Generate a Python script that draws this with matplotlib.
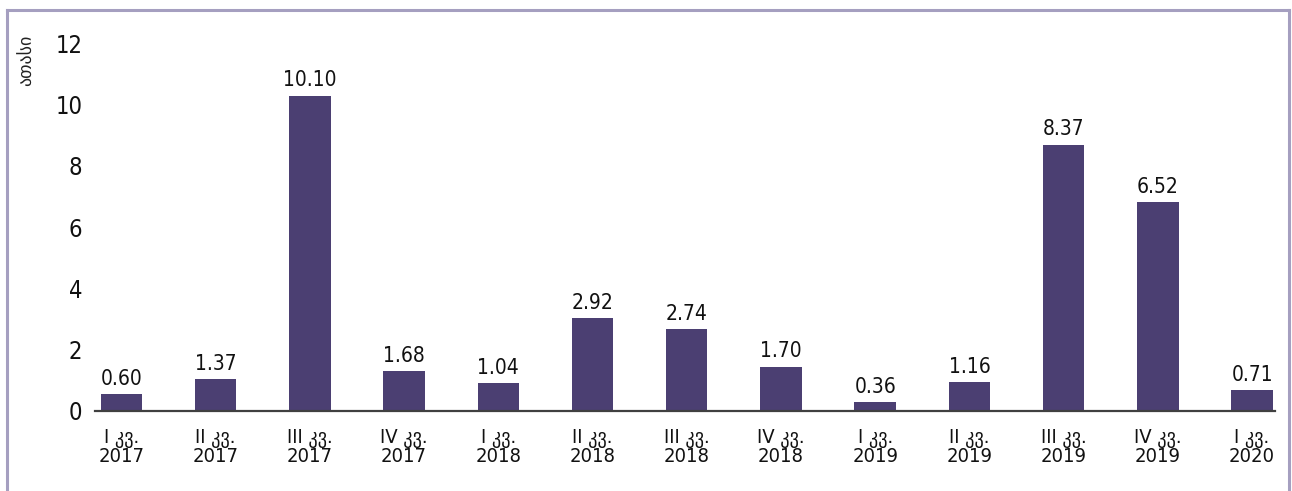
import numpy as np
import matplotlib
matplotlib.use("Agg")
import matplotlib.pyplot as plt
from matplotlib.lines import Line2D

# data
quarters = ["I", "II", "III", "IV", "I", "II", "III", "IV", "I", "II", "III", "IV", "I"]
years = ["2017", "2017", "2017", "2017", "2018", "2018", "2018", "2018",
         "2019", "2019", "2019", "2019", "2020"]
bar_heights = [0.54, 1.03, 10.29, 1.30, 0.90, 3.02, 2.66, 1.45, 0.28, 0.93, 8.69, 6.81, 0.67]
value_labels = ["0.60", "1.37", "10.10", "1.68", "1.04", "2.92", "2.74", "1.70",
                "0.36", "1.16", "8.37", "6.52", "0.71"]
y_ticks = [0, 2, 4, 6, 8, 10, 12]

BAR_COLOR = "#4b3f72"
FRAME_COLOR = "#a59fc0"

plt.rcParams["font.family"] = ["DejaVu Sans"]
plt.rcParams["font.stretch"] = "condensed"

fig = plt.figure(figsize=(12.92, 4.91), dpi=100)
ax = fig.add_axes([0.0735, 0.163, 0.9135, 0.749])

x = np.arange(len(bar_heights))
bars = ax.bar(x, bar_heights, width=0.44, color=BAR_COLOR, zorder=2)

for rect, lab in zip(bars, value_labels):
    ax.annotate(lab, (rect.get_x() + rect.get_width() / 2, rect.get_height()),
                xytext=(0, 4), textcoords="offset points",
                ha="center", va="bottom", fontsize=15, color="#111111")

ax.set_xlim(-0.28, len(bar_heights) - 1 + 0.245)
ax.set_ylim(0, 12)
ax.set_yticks(y_ticks)
ax.set_yticklabels([str(t) for t in y_ticks], fontsize=17)
ax.set_xticks(x)
ax.set_xticklabels([f"{q} კვ.\n{y}" for q, y in zip(quarters, years)],
                   fontsize=14.5, linespacing=0.95)
ax.tick_params(axis="both", length=0, colors="#111111")
ax.tick_params(axis="x", pad=13)
ax.tick_params(axis="y", pad=9)

for side in ["top", "right", "left"]:
    ax.spines[side].set_visible(False)
ax.spines["bottom"].set_color("#404040")
ax.spines["bottom"].set_linewidth(1.6)
ax.spines["bottom"].set_zorder(3)

fig.text(0.021, 0.93, "ათასი", rotation=90, ha="center", va="top", fontsize=13,
         fontstretch="normal", color="#222222")

# outer frame (no bottom edge)
fx0, fx1, fy1 = 7 / 1292, 1289 / 1292, 1 - 9.5 / 491
for xs, ys in [([fx0, fx0], [0, fy1]), ([fx0, fx1], [fy1, fy1]), ([fx1, fx1], [fy1, 0])]:
    fig.add_artist(Line2D(xs, ys, color=FRAME_COLOR, linewidth=2.2, transform=fig.transFigure))

fig.savefig("out.png", dpi=100)
